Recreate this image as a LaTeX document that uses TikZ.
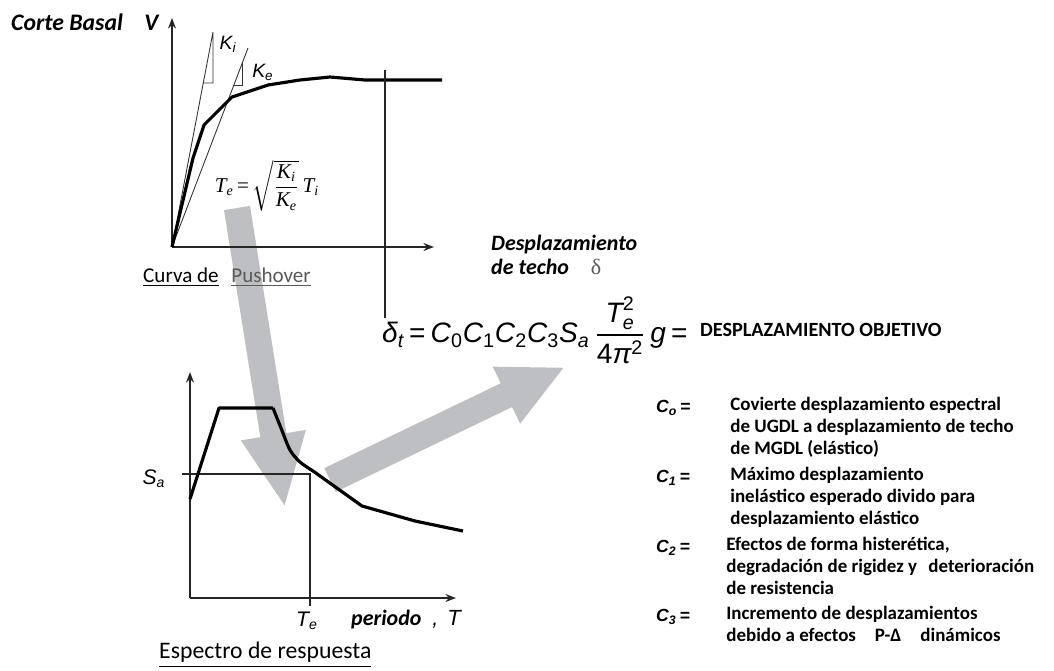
\documentclass[tikz,border=0pt]{standalone}
\usepackage{amsmath}
\usepackage{fontspec}
\setmainfont{Carlito}
\newfontfamily\arialf{Liberation Sans}
\newfontfamily\timesf{Liberation Serif}
\usetikzlibrary{arrows.meta}
\definecolor{arrowgray}{RGB}{190,191,194}
\definecolor{linkgray}{RGB}{90,90,90}
\newcommand{\ai}[1]{\text{\arialf\itshape #1}}
\newcommand{\au}[1]{\text{\arialf #1}}
\newcommand{\ti}[1]{\text{\timesf\itshape #1}}

\begin{document}
\begin{tikzpicture}[x=0.02cm, y=-0.02cm, >={Stealth[length=6pt,width=4.5pt]},
  axisline/.style={->, line width=1.1pt, black!85},
  curveline/.style={line width=1.8pt, line join=round},
  thinline/.style={line width=0.5pt, black!80},
  bigarrow/.style={arrowgray, line width=15pt}]
\useasboundingbox (0,0) rectangle (1054,670);

% gray arrows behind everything
\coordinate (pushtail) at (237,208);
\coordinate (pushtip) at (285,508);
\coordinate (spectail) at (330,480);
\coordinate (spectip) at (565,367);
\draw[bigarrow, -{Triangle[width=34pt,length=42pt]}] (pushtail) -- (pushtip);
\draw[bigarrow, -{Triangle[width=33pt,length=37pt]}] (spectail) -- (spectip);

% pushover curve
\coordinate (po) at (172,247);
\draw[axisline] (po) -- (172,18);
\draw[axisline] (po) -- (434,247);
\draw[thinline] (po) -- (213,32) -- (213,83) -- (203.3,83);
\draw[thinline] (po) -- (248,48);
\draw[thinline] (242,63) -- (242,85) -- (233.9,85);
\draw[curveline] (po) -- (193,158) -- (204,125) -- (232,97) -- (268,85)
  -- (300,80) -- (330,77) -- (365,80) -- (442,80);
\draw[line width=1pt, black!85] (385,70) -- (385,318);
\node[font=\arialf\itshape\fontsize{11}{12}\selectfont] (ki) at (228,44) {K\textsubscript{i}};
\node[font=\arialf\itshape\fontsize{11}{12}\selectfont] (ke) at (263,72) {K\textsubscript{e}};
\node[font=\fontsize{12}{14}\selectfont] (teq) at (267,186)
  {$\ti{T}_{\ti{e}}\,\text{\timesf=}\,\sqrt{\dfrac{\ti{K}_{\ti{i}}}{\ti{K}_{\ti{e}}}}\,\ti{T}_{\ti{i}}$};
\node[font=\bfseries\itshape\fontsize{13.5}{15}\selectfont, anchor=west] (vlab) at (5,22)
  {Corte Basal\hspace{0.9em}V};
\node[font=\fontsize{12}{14}\selectfont, anchor=west] (pushlab) at (137,277)
  {\underline{Curva de}\hspace{0.6em}\textcolor{linkgray}{\underline{Pushover}}};
\node[font=\bfseries\itshape\fontsize{12.5}{14}\selectfont, anchor=west, align=left] (dlab) at (485,255)
  {Desplazamiento\\de techo\hspace{1em}{\timesf\mdseries\upshape\color{linkgray}δ}};

% target displacement
\node[font=\fontsize{16}{19}\selectfont, anchor=west] (dteq) at (376,330)
  {$\ai{δ}_{\ai{t}}\,\au{=}\,\ai{C}_{\au{0}}\ai{C}_{\au{1}}\ai{C}_{\au{2}}\ai{C}_{\au{3}}\ai{S}_{\ai{a}}\,
   \dfrac{\ai{T}^{\au{2}}_{\ai{e}}}{\au{4}\ai{π}^{\au{2}}}\,\ai{g}\,\au{=}$};
\node[font=\bfseries\fontsize{11.5}{13}\selectfont, anchor=west] (objlab) at (694,330)
  {DESPLAZAMIENTO OBJETIVO};

% spectrum
\coordinate (so) at (190,598);
\draw[axisline] (so) -- (190,372);
\draw[axisline] (so) -- (456,598);
\draw[line width=0.8pt, black!85] (182,474) -- (310,474) -- (310,606);
\draw[curveline] (190,499) -- (219,408) -- (273,408)
  plot[smooth, tension=0.5] coordinates {(273,408) (281,428) (290,450) (300,462) (313,471)}
  -- (362,506) -- (415,521) -- (463,531);
\node[font=\arialf\itshape\fontsize{12}{14}\selectfont] (salab) at (154,479) {S\textsubscript{a}};
\node[font=\arialf\itshape\fontsize{12}{14}\selectfont] (telab) at (307,621) {T\textsubscript{e}};
\node[font=\fontsize{12.5}{14}\selectfont, anchor=west] (tlab) at (345,620)
  {\textbf{\textit{periodo}}\hspace{0.5em}{\arialf\itshape ,\hspace{0.4em}T}};
\node[font=\fontsize{13.5}{15}\selectfont, anchor=west] (speclab) at (153,655)
  {\underline{Espectro de respuesta}};

% coefficients
\foreach \y/\n/\x/\lines in {
  408/o/730/{Covierte desplazamiento espectral\\de UGDL a desplazamiento de techo\\de MGDL (elástico)},
  478/1/730/{Máximo desplazamiento\\inelástico esperado divido para\\desplazamiento elástico},
  548/2/726/{Efectos de forma histerética,\\degradación de rigidez y\hspace{0.6em}deterioración\\de resistencia},
  617/3/726/{Incremento de desplazamientos\\debido a efectos\hspace{1em}P-Δ\hspace{1em}dinámicos}}{
  \node[font=\arialf\bfseries\itshape\fontsize{10}{12}\selectfont, anchor=west] (c\n) at (650,\y)
    {C\textsubscript{\n}\,=};
  \node[font=\bfseries\fontsize{10.8}{12.4}\selectfont, anchor=north west, align=left,
    inner sep=0pt] (d\n) at (\x,\y-11) {\lines};
}
\end{tikzpicture}
\end{document}
